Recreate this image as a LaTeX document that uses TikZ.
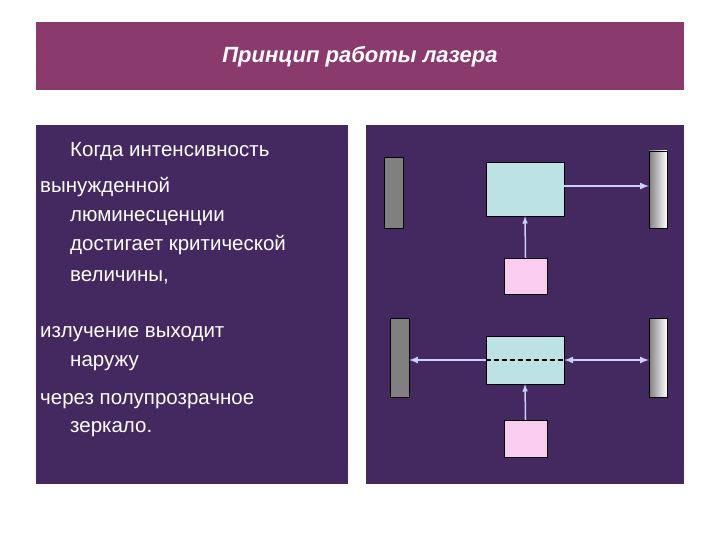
\documentclass[tikz,border=0pt]{standalone}
\usepackage{fontspec}
\setmainfont{Liberation Sans}
\definecolor{titlec}{RGB}{139,58,110}
\definecolor{panelc}{RGB}{67,41,95}
\definecolor{boxc}{RGB}{189,226,228}
\definecolor{pumpc}{RGB}{250,204,240}
\definecolor{rayc}{RGB}{200,210,250}
\begin{document}
\begin{tikzpicture}[x=1pt,y=-1pt,
  txt/.style={anchor=base west,text=white,font=\fontsize{20.5}{22}\selectfont,inner sep=0},
  mir/.style={draw=black,fill=gray},
  mirr/.style={draw=black,left color=gray,right color=white},
  box/.style={draw=black,fill=boxc},
  pump/.style={draw=black,fill=pumpc},
  ray/.style={draw=rayc,line width=2pt,-latex}]
\useasboundingbox (0,0) rectangle (720,540);
\fill[white] (0,0) rectangle (720,540);
\fill[titlec] (36,22) rectangle (684,90);
\node[text=white,font=\fontsize{22}{24}\selectfont\bfseries\itshape] (title) at (360,57) {Принцип работы лазера};
\fill[panelc] (36,125) rectangle (348,484);
\fill[panelc] (366,125) rectangle (684,484);
\node[txt] (t1) at (70,157) {Когда интенсивность};
\node[txt] (t2) at (40,193) {вынужденной};
\node[txt] (t3) at (70,222) {люминесценции};
\node[txt] (t4) at (70,250) {достигает критической};
\node[txt] (t5) at (70,281) {величины,};
\node[txt] (t6) at (40,337) {излучение выходит};
\node[txt] (t7) at (70,366) {наружу};
\node[txt] (t8) at (40,404) {через полупрозрачное};
\node[txt] (t9) at (70,432) {зеркало.};
% top
\draw[mir] (384,157) rectangle (403,228);
\draw[mirr] (649,151) rectangle (667,228);
\node[box,minimum width=78,minimum height=54,inner sep=0] (b1) at (525,189) {};
\node[pump,minimum width=43,minimum height=36,inner sep=0] (p1) at (525.5,276) {};
\coordinate (m1) at (649,186);
\draw[ray] (b1.east |- m1) -- (m1);
\draw[ray,line width=1.5pt] (p1.north) -- (b1.south);
% bottom
\draw[mir] (390,318) rectangle (409,397);
\draw[mirr] (649,318) rectangle (667,397);
\node[box,minimum width=78,minimum height=48,inner sep=0] (b2) at (525,360) {};
\node[pump,minimum width=43,minimum height=37,inner sep=0] (p2) at (525.5,438.5) {};
\coordinate (l2) at (409,360);
\coordinate (r2) at (649,360);
\draw[ray] (b2.west) -- (l2);
\draw[ray,latex-latex] (b2.east) -- (r2);
\draw[black,dash pattern=on 5pt off 3pt,line width=1.5pt] (b2.west) -- (b2.east);
\draw[ray,line width=1.5pt] (p2.north) -- (b2.south);
\end{tikzpicture}
\end{document}
